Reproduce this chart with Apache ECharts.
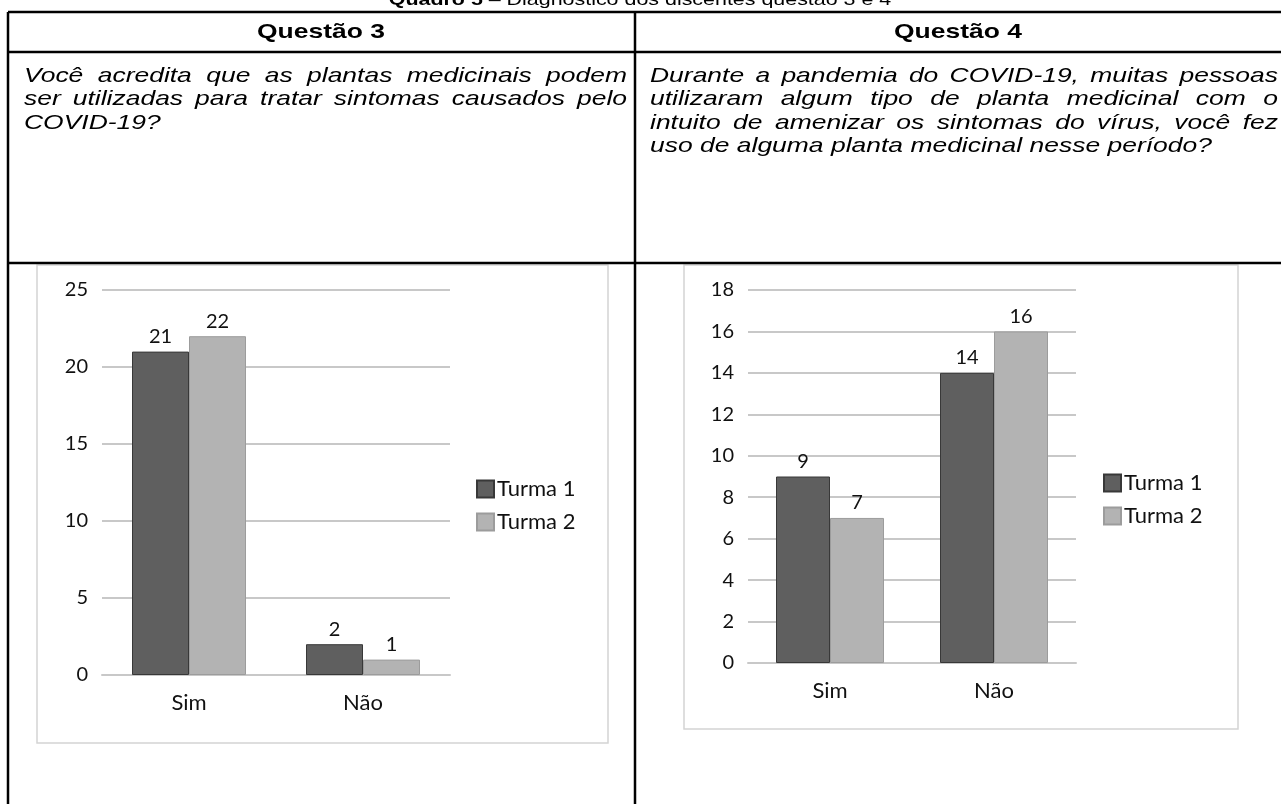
<!DOCTYPE html>
<html>
<head>
<meta charset="utf-8">
<script src="https://cdn.jsdelivr.net/npm/echarts@6/dist/echarts.min.js"></script>
<style>
  html, body { margin: 0; padding: 0; background: #ffffff; }
  #chart { width: 1281px; height: 804px; }
</style>
</head>
<body>
<div id="chart"></div>
<script>
// ---- Data ----
const categories = ['Sim', 'Não'];
const seriesNames = ['Turma 1', 'Turma 2'];

const q3Turma1 = [21, 2];
const q3Turma2 = [22, 1];
const q4Turma1 = [9, 14];
const q4Turma2 = [7, 16];

const q3AxisMax = 25;
const q3AxisStep = 5;
const q4AxisMax = 18;
const q4AxisStep = 2;

// ---- Texts ----
const captionBold = 'Quadro 5';
const captionRest = ' – Diagnóstico dos discentes questão 3 e 4';
const headings = ['Questão 3', 'Questão 4'];
const question3Lines = [
  'Você acredita que as plantas medicinais podem',
  'ser utilizadas para tratar sintomas causados pelo',
  'COVID-19?'
];
const question4Lines = [
  'Durante a pandemia do COVID-19, muitas pessoas',
  'utilizaram algum tipo de planta medicinal com o',
  'intuito de amenizar os sintomas do vírus, você fez',
  'uso de alguma planta medicinal nesse período?'
];

// ---- Styles ----
const docFont = '"Liberation Sans", Arial, sans-serif';
const docStretch = 1.26;          // document text is set wide
const chartFont = 'Lato, "Open Sans", sans-serif';
const colorT1 = '#5f5f5f';
const borderT1 = '#383838';
const colorT2 = '#b3b3b3';
const borderT2 = '#9c9c9c';
const gridGray = '#c8c8c8';

const chart = echarts.init(document.getElementById('chart'));

const measureCtx = document.createElement('canvas').getContext('2d');
function textWidth(str, font) {
  measureCtx.font = font;
  return measureCtx.measureText(str).width * docStretch;
}

function docText(str, x, y, font, align, vAlign) {
  return {
    type: 'text', silent: true, x: x, y: y, scaleX: docStretch, scaleY: 1,
    style: { text: str, font: font, fill: '#000', textAlign: align || 'left', textVerticalAlign: vAlign || 'middle' }
  };
}

// Justified paragraph: every line but the last is spread across the column width.
function paragraph(lines, x0, width, yStart, lineStep, font) {
  const els = [];
  lines.forEach((line, i) => {
    const y = yStart + i * lineStep;
    const words = line.split(' ');
    const last = i === lines.length - 1;
    if (last || words.length < 2) {
      els.push(docText(line, x0, y, font));
      return;
    }
    const widths = words.map(w => textWidth(w, font));
    const total = widths.reduce((a, b) => a + b, 0);
    const gap = (width - total) / (words.length - 1);
    let x = x0;
    words.forEach((w, j) => {
      els.push(docText(w, x, y, font));
      x += widths[j] + gap;
    });
  });
  return els;
}

function tableLine(x1, y1, x2, y2) {
  return { type: 'line', silent: true, shape: { x1, y1, x2, y2 },
    style: { stroke: '#000', lineWidth: 2.5 } };
}

// caption (runs past the top edge)
const capBoldFont = 'bold 17px ' + docFont;
const capFont = '17px ' + docFont;
const capW1 = textWidth(captionBold, capBoldFont);
const capW2 = textWidth(captionRest, capFont);
const capX = 640 - (capW1 + capW2) / 2;

const italicFont = 'italic 21px ' + docFont;
const headFont = 'bold 21px ' + docFont;

const graphics = [
  docText(captionBold, capX, 9, capBoldFont, 'left', 'bottom'),
  docText(captionRest, capX + capW1, 9, capFont, 'left', 'bottom'),

  // table rules
  tableLine(8, 12, 1281, 12),
  tableLine(8, 52, 1281, 52),
  tableLine(8, 263, 1281, 263),
  tableLine(8, 12, 8, 804),
  tableLine(635, 12, 635, 804),

  docText(headings[0], 321, 32, headFont, 'center'),
  docText(headings[1], 958, 32, headFont, 'center'),

  // chart frames
  { type: 'rect', silent: true, z: -1, shape: { x: 37, y: 265, width: 571, height: 478 },
    style: { fill: '#fff', stroke: '#d4d4d4', lineWidth: 1.5 } },
  { type: 'rect', silent: true, z: -1, shape: { x: 684, y: 265, width: 554, height: 464 },
    style: { fill: '#fff', stroke: '#d4d4d4', lineWidth: 1.5 } }
]
  .concat(paragraph(question3Lines, 24, 603, 76, 23.5, italicFont))
  .concat(paragraph(question4Lines, 650, 628, 76, 23.5, italicFont));

const numberText = { color: '#111', fontFamily: chartFont, fontSize: 20 };
const wordText = { color: '#111', fontFamily: chartFont, fontSize: 22 };

function xAxisFor(gridIndex) {
  return {
    type: 'category', gridIndex, data: categories,
    axisLine: { show: true, lineStyle: { color: gridGray, width: 2 } },
    axisTick: { show: false },
    axisLabel: Object.assign({ margin: 17 }, wordText)
  };
}
function yAxisFor(gridIndex, max, step) {
  return {
    type: 'value', gridIndex, min: 0, max, interval: step,
    axisLine: { show: false }, axisTick: { show: false },
    splitLine: { lineStyle: { color: gridGray, width: 2 } },
    axisLabel: Object.assign({ margin: 14 }, numberText)
  };
}
function barSeries(name, data, axisIndex, width, fill, border) {
  return {
    type: 'bar', name, data, xAxisIndex: axisIndex, yAxisIndex: axisIndex,
    barWidth: width, barGap: '0%',
    itemStyle: { color: fill, borderColor: border, borderWidth: 1 },
    label: Object.assign({ show: true, position: 'top', distance: 5 }, numberText),
    emphasis: { disabled: true }
  };
}
function legendAt(left, top) {
  return {
    orient: 'vertical', left, top, padding: 0, itemGap: 11,
    itemWidth: 17, itemHeight: 17, icon: 'rect',
    data: seriesNames,
    textStyle: Object.assign({ padding: [0, 0, 0, -2] }, wordText)
  };
}

chart.setOption({
  animation: false,
  backgroundColor: '#fff',
  graphic: graphics,
  grid: [
    { left: 102, top: 290, width: 348, height: 385 },
    { left: 748, top: 290, width: 328, height: 373 }
  ],
  xAxis: [xAxisFor(0), xAxisFor(1)],
  yAxis: [yAxisFor(0, q3AxisMax, q3AxisStep), yAxisFor(1, q4AxisMax, q4AxisStep)],
  legend: [legendAt(476, 478), legendAt(1103, 472)],
  series: [
    barSeries(seriesNames[0], q3Turma1, 0, 57, colorT1, borderT1),
    barSeries(seriesNames[1], q3Turma2, 0, 57, colorT2, borderT2),
    barSeries(seriesNames[0], q4Turma1, 1, 54, colorT1, borderT1),
    barSeries(seriesNames[1], q4Turma2, 1, 54, colorT2, borderT2)
  ]
});
</script>
</body>
</html>
